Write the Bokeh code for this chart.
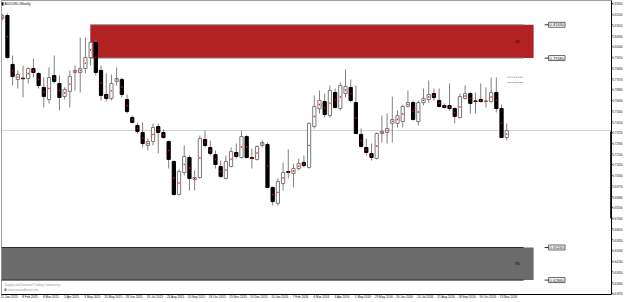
from bokeh.plotting import figure
from bokeh.models import (ColumnDataSource, FixedTicker, Label, Range1d, Span,
                          NumeralTickFormatter)
from bokeh.embed import file_html
from bokeh.resources import INLINE

# ---------------- data (AUDUSD weekly) ----------------
OPEN = [0.8209, 0.8231, 0.7871, 0.7760, 0.7770, 0.7768, 0.7841, 0.7805, 0.7702, 0.7613,
        0.7790, 0.7731, 0.7635, 0.7672, 0.7812, 0.7812, 0.7841, 0.7922, 0.8033, 0.7827,
        0.7650, 0.7621, 0.7746, 0.7760, 0.7613, 0.7481, 0.7422, 0.7370, 0.7275, 0.7304,
        0.7414, 0.7370, 0.7304, 0.7157, 0.6914, 0.7076, 0.7186, 0.7024, 0.7039, 0.7319,
        0.7260, 0.7208, 0.7120, 0.7032, 0.7120, 0.7223, 0.7186, 0.7341, 0.7186, 0.7172,
        0.7275, 0.7282, 0.6966, 0.6848, 0.6995, 0.7083, 0.7069, 0.7105, 0.7150, 0.7113,
        0.7414, 0.7547, 0.7598, 0.7495, 0.7665, 0.7547, 0.7657, 0.7702, 0.7591, 0.7356,
        0.7260, 0.7216, 0.7179, 0.7363, 0.7370, 0.7437, 0.7437, 0.7451, 0.7562, 0.7591,
        0.7451, 0.7591, 0.7613, 0.7657, 0.7606, 0.7569, 0.7569, 0.7547, 0.7481, 0.7621,
        0.7657, 0.7603, 0.7613, 0.7598, 0.7598, 0.7665, 0.7547, 0.7333]
HIGH = [0.8246, 0.8246, 0.7937, 0.7827, 0.7863, 0.7849, 0.7915, 0.7812, 0.7775, 0.7849,
        0.7937, 0.7790, 0.7702, 0.7827, 0.7863, 0.8069, 0.8069, 0.8062, 0.8055, 0.7863,
        0.7805, 0.7797, 0.7849, 0.7775, 0.7650, 0.7495, 0.7444, 0.7444, 0.7326, 0.7437,
        0.7437, 0.7392, 0.7311, 0.7164, 0.7098, 0.7275, 0.7201, 0.7091, 0.7348, 0.7385,
        0.7311, 0.7238, 0.7164, 0.7201, 0.7260, 0.7289, 0.7385, 0.7348, 0.7252, 0.7275,
        0.7311, 0.7297, 0.6973, 0.7032, 0.7150, 0.7245, 0.7142, 0.7179, 0.7201, 0.7444,
        0.7643, 0.7679, 0.7657, 0.7716, 0.7694, 0.7738, 0.7834, 0.7760, 0.7716, 0.7400,
        0.7326, 0.7289, 0.7370, 0.7495, 0.7510, 0.7635, 0.7532, 0.7576, 0.7679, 0.7606,
        0.7606, 0.7694, 0.7753, 0.7694, 0.7694, 0.7584, 0.7731, 0.7554, 0.7657, 0.7716,
        0.7665, 0.7665, 0.7731, 0.7702, 0.7775, 0.7775, 0.7576, 0.7437]
LOW = [0.8195, 0.7915, 0.7716, 0.7694, 0.7628, 0.7731, 0.7775, 0.7694, 0.7554, 0.7584,
       0.7731, 0.7532, 0.7613, 0.7554, 0.7679, 0.7665, 0.7805, 0.7863, 0.7790, 0.7606,
       0.7598, 0.7606, 0.7716, 0.7628, 0.7510, 0.7437, 0.7363, 0.7260, 0.7238, 0.7275,
       0.7216, 0.7326, 0.7105, 0.6907, 0.6907, 0.7054, 0.6943, 0.6943, 0.7032, 0.7260,
       0.7201, 0.7105, 0.7039, 0.7024, 0.7113, 0.7179, 0.7179, 0.7179, 0.7105, 0.7164,
       0.7260, 0.6960, 0.6833, 0.6833, 0.6943, 0.7032, 0.6966, 0.7091, 0.7113, 0.7105,
       0.7400, 0.7510, 0.7481, 0.7481, 0.7547, 0.7532, 0.7628, 0.7591, 0.7356, 0.7260,
       0.7201, 0.7164, 0.7172, 0.7297, 0.7289, 0.7297, 0.7407, 0.7407, 0.7554, 0.7459,
       0.7422, 0.7569, 0.7591, 0.7606, 0.7554, 0.7547, 0.7532, 0.7437, 0.7473, 0.7613,
       0.7510, 0.7510, 0.7591, 0.7554, 0.7591, 0.7518, 0.7330, 0.7311]
CLOSE = [0.8231, 0.7922, 0.7782, 0.7797, 0.7766, 0.7841, 0.7812, 0.7716, 0.7635, 0.7775,
         0.7746, 0.7628, 0.7687, 0.7782, 0.7827, 0.7841, 0.7922, 0.8033, 0.7812, 0.7643,
         0.7621, 0.7731, 0.7768, 0.7650, 0.7525, 0.7444, 0.7378, 0.7289, 0.7304, 0.7407,
         0.7370, 0.7333, 0.7172, 0.6914, 0.7083, 0.7194, 0.7032, 0.7039, 0.7326, 0.7275,
         0.7216, 0.7135, 0.7046, 0.7157, 0.7230, 0.7194, 0.7341, 0.7186, 0.7179, 0.7267,
         0.7297, 0.6966, 0.6862, 0.7010, 0.7076, 0.7076, 0.7105, 0.7142, 0.7127, 0.7437,
         0.7562, 0.7606, 0.7503, 0.7679, 0.7554, 0.7716, 0.7709, 0.7606, 0.7363, 0.7267,
         0.7223, 0.7186, 0.7363, 0.7378, 0.7400, 0.7466, 0.7495, 0.7562, 0.7591, 0.7466,
         0.7591, 0.7621, 0.7650, 0.7628, 0.7562, 0.7554, 0.7547, 0.7488, 0.7635, 0.7657,
         0.7584, 0.7598, 0.7598, 0.7603, 0.7665, 0.7547, 0.7333, 0.7385]

DATE_LABELS = ["11 Jan 2015", "8 Feb 2015", "8 Mar 2015", "5 Apr 2015", "3 May 2015",
               "31 May 2015", "28 Jun 2015", "26 Jul 2015", "23 Aug 2015", "20 Sep 2015",
               "18 Oct 2015", "15 Nov 2015", "13 Dec 2015", "10 Jan 2016", "7 Feb 2016",
               "6 Mar 2016", "3 Apr 2016", "1 May 2016", "29 May 2016", "26 Jun 2016",
               "24 Jul 2016", "21 Aug 2016", "18 Sep 2016", "16 Oct 2016", "13 Nov 2016"]
DATE_BARS = [0, 4, 8, 12, 16, 20, 24, 28, 32, 36, 40, 44, 48, 52, 56, 60, 64, 68, 72,
             76, 80, 84, 88, 92, 96]
PRICE_TICKS = [0.83200, 0.82410, 0.81620, 0.80830, 0.80040, 0.79250, 0.78460, 0.77670,
               0.76880, 0.76090, 0.75300, 0.74510, 0.73720, 0.72930, 0.72140, 0.71350,
               0.70560, 0.69770, 0.68980, 0.68190, 0.67400, 0.66610, 0.65820, 0.65030,
               0.64240, 0.63450, 0.62660, 0.61870]
SUPPLY_ZONE = [0.81630, 0.79180]
DEMAND_ZONE = [0.65240, 0.62840]
CURRENT_PRICE = 0.73850
ZONE_START_BAR = 17

# ---------------- layout ----------------
X_START, X_END = -0.134, 117.14
Y_START, Y_END = 0.6178, 0.83418
FRAME_L, FRAME_W, FRAME_H = 1, 611, 294


def dx(px):
    return X_START + (px - FRAME_L) / FRAME_W * (X_END - X_START)


def dy(py):
    return Y_END - py / FRAME_H * (Y_END - Y_START)


FONT = "Liberation Sans"

p = figure(width=625, height=302, x_range=Range1d(X_START, X_END),
           y_range=Range1d(Y_START, Y_END), output_backend="svg",
           toolbar_location=None, y_axis_location="right",
           min_border_left=FRAME_L, min_border_top=0, min_border_right=13,
           min_border_bottom=8)
p.xgrid.visible = False
p.ygrid.visible = False
p.background_fill_color = "white"
p.border_fill_color = "white"
p.outline_line_color = "#a0a0a0"

# zones
zone_right = dx(534)
border_right = dx(524)
p.quad(left=[ZONE_START_BAR - 0.06], right=[zone_right], top=[SUPPLY_ZONE[0]],
       bottom=[SUPPLY_ZONE[1]], fill_color="#B22222", line_color=None)
p.segment(x0=[ZONE_START_BAR - 0.06] * 2, x1=[border_right] * 2, y0=SUPPLY_ZONE,
          y1=SUPPLY_ZONE, line_color="#8c8c8c", line_width=1)
p.quad(left=[X_START], right=[zone_right], top=[DEMAND_ZONE[0]],
       bottom=[DEMAND_ZONE[1]], fill_color="#6B6B6B", line_color=None)
p.segment(x0=[X_START] * 2, x1=[border_right] * 2, y0=DEMAND_ZONE, y1=DEMAND_ZONE,
          line_color="#2a2a2a", line_width=1)
for z in (SUPPLY_ZONE, DEMAND_ZONE):
    p.add_layout(Label(x=dx(518), y=(z[0] + z[1]) / 2, text="W1", text_font=FONT,
                       text_font_size="3.2px", text_color="#111111",
                       text_align="center", text_baseline="middle"))
    for lv in z:
        p.segment(x0=[dx(545)], x1=[dx(549)], y0=[lv], y1=[lv], line_color="#333333",
                  line_width=1)
        p.add_layout(Label(x=dx(549), y=lv, text=f"{lv:.5f}", text_font=FONT,
                           text_font_size="4px", text_color="#111111",
                           text_baseline="middle", background_fill_color="white",
                           border_line_color="#222222", border_line_width=0.7,
                           padding=1))

# current price line
p.add_layout(Span(location=CURRENT_PRICE, dimension="width", line_color="#d4d4d4",
                  line_width=1, level="underlay"))

# dotted marks
p.segment(x0=[dx(508)] * 2, x1=[dx(523)] * 2, y0=[dy(76.7), dy(82)],
          y1=[dy(76.7), dy(82)], line_color="#777777", line_dash="1 1", line_width=1)

# candles
idx = list(range(len(OPEN)))
src = ColumnDataSource(dict(x=idx, o=OPEN, h=HIGH, l=LOW, c=CLOSE,
                            mid=[(a + b) / 2 for a, b in zip(OPEN, CLOSE)]))
bull = [i for i in idx if CLOSE[i] >= OPEN[i]]
bear = [i for i in idx if CLOSE[i] < OPEN[i]]
p.segment(x0="x", y0="h", x1="x", y1="l", source=src, line_color="#808080",
          line_width=1)
bsrc = ColumnDataSource(dict(x=bull, top=[CLOSE[i] for i in bull],
                             bottom=[OPEN[i] for i in bull]))
rsrc = ColumnDataSource(dict(x=bear, top=[OPEN[i] for i in bear],
                             bottom=[CLOSE[i] for i in bear]))
p.vbar(x="x", width=0.62, top="top", bottom="bottom", source=bsrc,
       fill_color="white", line_color="#7a7a7a", line_width=1)
p.vbar(x="x", width=0.62, top="top", bottom="bottom", source=rsrc,
       fill_color="black", line_color="black", line_width=1)
p.scatter(x="x", y="mid", source=src, marker="square", size=1.3, color="#ff0000",
          line_color=None)

# current price box + axis highlight
p.segment(x0=[X_END], x1=[X_END], y0=[dy(131)], y1=[dy(218)], line_color="#333333",
          line_width=3)
p.add_layout(Label(x=X_END, y=CURRENT_PRICE, text=f"{CURRENT_PRICE:.5f}",
                   text_font=FONT, text_font_size="3px", text_color="white",
                   text_baseline="middle", background_fill_color="black",
                   padding=1, x_offset=0.5))

# title / watermark
p.quad(left=[dx(1)], right=[dx(3)], top=[dy(1.8)], bottom=[dy(5)], fill_color="black",
       line_color=None)
p.add_layout(Label(x=dx(4), y=dy(3.6), text="AUDUSD,Weekly", text_font=FONT,
                   text_font_size="3.4px", text_color="#111111", text_baseline="middle"))
p.add_layout(Label(x=dx(4), y=dy(284.5), text="Supply and Demand Trading Community",
                   text_font=FONT, text_font_size="3.1px", text_color="#9a9a9a",
                   text_baseline="middle"))
p.quad(left=[dx(4)], right=[dx(6)], top=[dy(288)], bottom=[dy(290.5)],
       fill_color="#777777", line_color=None)
p.add_layout(Label(x=dx(7), y=dy(289.3), text="www.sasandforex.com", text_font=FONT,
                   text_font_size="3.1px", text_color="#9a9a9a", text_baseline="middle"))

# axes
p.xaxis.ticker = FixedTicker(ticks=[b + 1.35 for b in DATE_BARS])
p.xaxis.major_label_overrides = {b + 1.35: lab for b, lab in zip(DATE_BARS, DATE_LABELS)}
p.xaxis.major_tick_line_color = None
p.xaxis.major_tick_out = 0
p.xaxis.major_tick_in = 0
p.xaxis.minor_tick_line_color = None
p.xaxis.minor_tick_out = 0
p.xaxis.axis_line_color = "black"
p.xaxis.major_label_text_font = FONT
p.xaxis.major_label_text_font_size = "3.1px"
p.xaxis.major_label_text_color = "#111111"
p.xaxis.major_label_standoff = 1

p.yaxis.ticker = FixedTicker(ticks=PRICE_TICKS)
p.yaxis.formatter = NumeralTickFormatter(format="0.00000")
p.yaxis.minor_tick_line_color = None
p.yaxis.minor_tick_out = 0
p.yaxis.major_tick_in = 0
p.yaxis.major_tick_out = 1
p.yaxis.major_tick_line_color = "black"
p.yaxis.axis_line_color = "black"
p.yaxis.major_label_text_font = FONT
p.yaxis.major_label_text_font_size = "2.8px"
p.yaxis.major_label_text_color = "#111111"
p.yaxis.major_label_standoff = 0

open("out.html", "w").write(file_html(p, INLINE))
